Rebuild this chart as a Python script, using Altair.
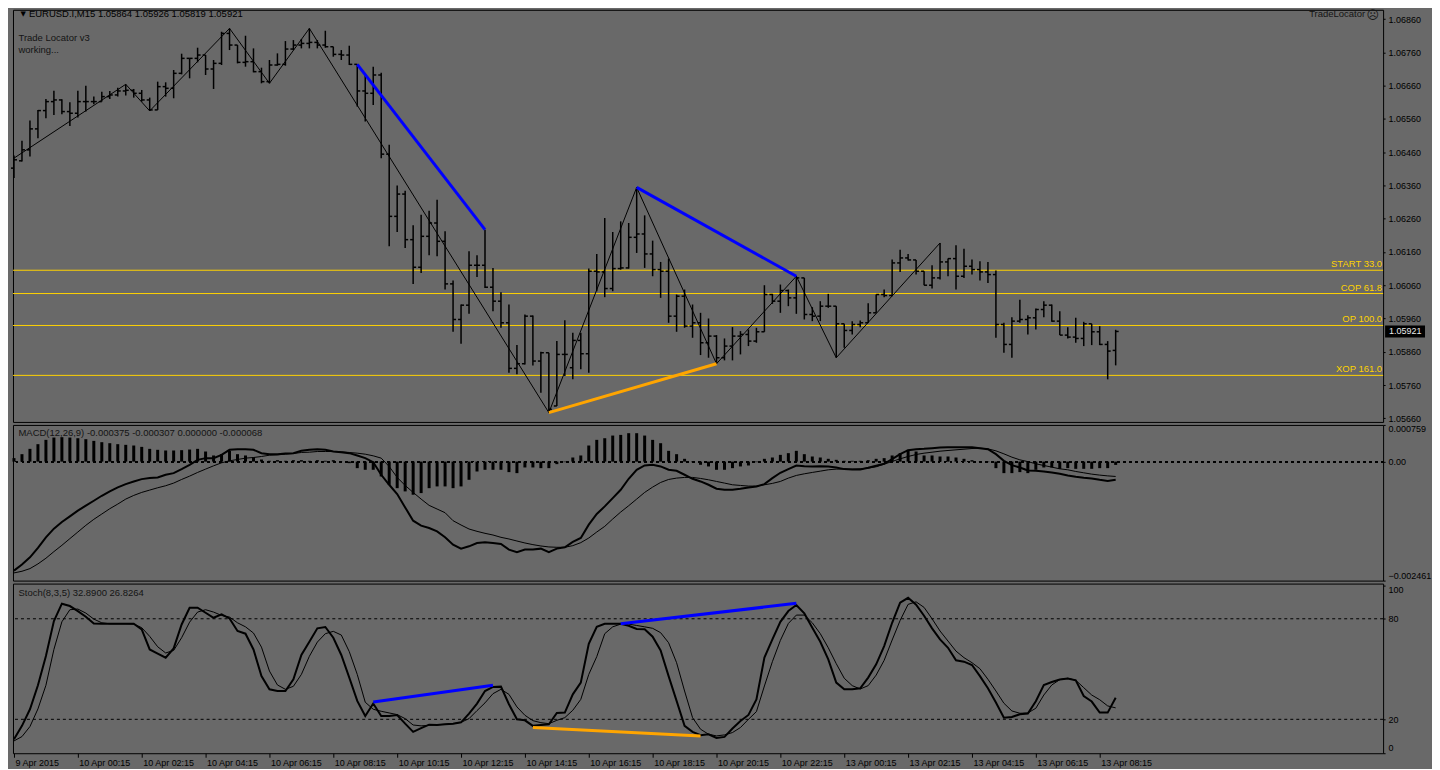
import altair as alt
import pandas as pd

FONT = "Liberation Sans"
BG = "#696969"
YELLOW = "#FFD200"
TXT = "#141414"

# EURUSD.I M15 bars, prices in points (1 point = 0.00001)
OPEN_PTS = [
    106412, 106434, 106467, 106530, 106585, 106612, 106617, 106582, 106577, 106612,
    106612, 106612, 106627, 106632, 106644, 106646, 106637, 106617, 106587, 106657,
    106652, 106697, 106742, 106742, 106752, 106710, 106727, 106817, 106782, 106730,
    106732, 106702, 106672, 106722, 106724, 106770, 106782, 106787, 106790, 106782,
    106777, 106754, 106752, 106724, 106644, 106637, 106692, 106454, 106267, 106334,
    106197, 106114, 106207, 106247, 106192, 106064, 105957, 106000, 106120, 106120,
    106054, 106012, 105947, 105810, 105824, 105967, 105832, 105857, 105697, 105852,
    105812, 105894, 105854, 106102, 106100, 106050, 106110, 106112, 106204, 106214,
    106154, 106107, 106102, 105967, 106027, 105937, 105947, 105887, 105907, 105842,
    105877, 105907, 105912, 105892, 105920, 106032, 106012, 106044, 106022, 106082,
    105972, 105967, 105997, 105997, 105944, 105924, 105942, 105947, 105977, 106032,
    106029, 106127, 106142, 106136, 106102, 106060, 106082, 106130, 106140, 106087,
    106117, 106107, 106100, 106092, 105942, 105882, 105952, 105957, 105962, 105987,
    106000, 105952, 105910, 105904, 105900, 105944, 105920, 105882, 105864,
]
HIGH_PTS = [
    106450, 106494, 106555, 106587, 106620, 106645, 106619, 106610, 106645, 106660,
    106627, 106642, 106644, 106654, 106664, 106650, 106647, 106624, 106672, 106670,
    106707, 106756, 106742, 106774, 106752, 106737, 106822, 106832, 106782, 106810,
    106772, 106714, 106737, 106757, 106794, 106797, 106800, 106832, 106797, 106825,
    106777, 106767, 106780, 106724, 106692, 106717, 106699, 106482, 106360, 106344,
    106240, 106272, 106284, 106317, 106222, 106074, 106002, 106162, 106150, 106227,
    106112, 106039, 106002, 105880, 105972, 105969, 105860, 105857, 105892, 105955,
    105917, 105917, 106110, 106154, 106262, 106220, 106252, 106247, 106354, 106270,
    106194, 106130, 106140, 106032, 106047, 106002, 105977, 105960, 105910, 105900,
    105934, 105922, 105927, 105932, 106060, 106034, 106062, 106047, 106087, 106082,
    105994, 106012, 106034, 105997, 105944, 105952, 105954, 106006, 106032, 106047,
    106137, 106167, 106154, 106136, 106102, 106120, 106187, 106140, 106180, 106170,
    106137, 106132, 106130, 106104, 105947, 105964, 106016, 105970, 105990, 106012,
    106002, 105982, 105934, 105962, 105950, 105944, 105937, 105892, 105926,
]
LOW_PTS = [
    106382, 106432, 106447, 106502, 106562, 106572, 106574, 106539, 106564, 106582,
    106604, 106612, 106620, 106627, 106630, 106624, 106612, 106584, 106587, 106627,
    106622, 106694, 106682, 106730, 106692, 106650, 106722, 106767, 106727, 106717,
    106700, 106667, 106667, 106720, 106720, 106767, 106772, 106772, 106772, 106774,
    106747, 106737, 106722, 106597, 106552, 106602, 106442, 106177, 106220, 106172,
    106064, 106097, 106150, 106147, 106047, 105920, 105884, 105974, 106085, 106052,
    105982, 105932, 105797, 105792, 105822, 105819, 105737, 105677, 105697, 105787,
    105777, 105807, 105797, 106042, 106024, 106042, 106107, 106110, 106157, 106112,
    106087, 106022, 105947, 105920, 105932, 105902, 105850, 105842, 105824, 105834,
    105834, 105852, 105877, 105887, 105920, 106004, 105977, 105997, 105974, 105957,
    105952, 105952, 105992, 105842, 105872, 105912, 105934, 105947, 105977, 106024,
    106027, 106100, 106134, 106092, 106060, 106050, 106077, 106087, 106047, 106082,
    106092, 106074, 106067, 105902, 105857, 105842, 105947, 105912, 105927, 105964,
    105950, 105910, 105900, 105887, 105877, 105880, 105880, 105777, 105819,
]
CLOSE_PTS = [
    106437, 106467, 106530, 106585, 106612, 106617, 106582, 106577, 106612, 106612,
    106612, 106627, 106632, 106644, 106646, 106637, 106617, 106587, 106657, 106652,
    106697, 106742, 106742, 106752, 106710, 106727, 106817, 106782, 106730, 106732,
    106702, 106672, 106722, 106724, 106770, 106782, 106787, 106790, 106782, 106777,
    106754, 106752, 106724, 106644, 106637, 106692, 106454, 106267, 106334, 106197,
    106114, 106207, 106247, 106192, 106064, 105957, 106000, 106120, 106120, 106054,
    106012, 105947, 105810, 105824, 105967, 105832, 105857, 105687, 105852, 105852,
    105894, 105854, 106102, 106100, 106050, 106110, 106112, 106204, 106214, 106154,
    106107, 106102, 105967, 106027, 105937, 105947, 105887, 105907, 105842, 105877,
    105907, 105912, 105892, 105920, 106032, 106012, 106044, 106022, 106082, 105972,
    105967, 105997, 105997, 105944, 105924, 105942, 105947, 105977, 106032, 106029,
    106127, 106142, 106136, 106102, 106060, 106082, 106130, 106140, 106087, 106117,
    106107, 106100, 106092, 105942, 105882, 105952, 105957, 105962, 105987, 106000,
    105952, 105910, 105904, 105900, 105944, 105920, 105882, 105862, 105921,
]

# zigzag pivots: bar index and price in points
ZZ_IDX = [0, 14, 17, 27, 32, 37, 67, 78, 88, 98, 103, 116]
ZZ_PTS = [106442, 106664, 106584, 106832, 106667, 106832, 105677, 106354, 105824, 106087, 105842, 106187]

# divergence segments: start bar, start value, end bar, end value, colour
PRICE_DIV = [
    (43, 106724, 59, 106227, "#0000FF"),
    (78, 106354, 98, 106087, "#0000FF"),
    (67, 105677, 88, 105824, "#FFA500"),
]
STOCH_DIV = [
    (45, 30.3, 60, 40.3, "#0000FF"),
    (76, 77.0, 98, 89.2, "#0000FF"),
    (65, 15.1, 86, 10.1, "#FFA500"),
]

LEVEL_NAMES = ["START 33.0", "COP 61.8", "OP 100.0", "XOP 161.0"]
LEVEL_PRICES = [1.06105, 1.06035, 1.05939, 1.05789]
LAST_PRICE = 1.05921

# MACD(12,26,9) buffers, in millionths
MACD_MAIN = [
    -2254, -2130, -1979, -1786, -1566, -1387, -1249, -1132, -1015, -912,
    -809, -706, -616, -534, -465, -410, -362, -341, -327, -272,
    -238, -155, -66, 37, 72, 72, 140, 244, 257, 257,
    244, 175, 154, 154, 168, 175, 223, 244, 257, 244,
    209, 195, 175, 127, 72, -11, -272, -479, -671, -947,
    -1222, -1325, -1373, -1442, -1566, -1717, -1800, -1752, -1683, -1669,
    -1683, -1703, -1820, -1875, -1820, -1820, -1800, -1875, -1800, -1772,
    -1662, -1580, -1304, -1084, -926, -754, -582, -355, -169, -80,
    -66, -100, -169, -190, -272, -355, -410, -479, -561, -582,
    -582, -561, -534, -513, -465, -341, -231, -155, -80, -94,
    -100, -94, -100, -121, -155, -162, -162, -128, -87, -45,
    51, 154, 237, 257, 264, 278, 292, 299, 299, 299,
    299, 278, 257, 154, 17, -73, -121, -183, -190, -204,
    -224, -252, -286, -314, -334, -348, -376, -400, -375,
]
MACD_SIGNAL = [
    -2302, -2268, -2213, -2116, -1999, -1862, -1731, -1593, -1456, -1318,
    -1194, -1084, -974, -878, -775, -699, -637, -589, -541, -499,
    -444, -369, -300, -224, -155, -87, -25, 17, 44, 72,
    85, 106, 133, 140, 154, 168, 189, 195, 209, 209,
    209, 202, 189, 175, 154, 120, 72, -101, -327, -493,
    -637, -775, -905, -981, -1057, -1222, -1311, -1394, -1442, -1483,
    -1518, -1566, -1600, -1642, -1683, -1717, -1745, -1765, -1772, -1772,
    -1738, -1676, -1580, -1456, -1339, -1187, -1043, -912, -775, -637,
    -527, -431, -369, -341, -327, -327, -348, -376, -410, -444,
    -479, -493, -506, -506, -479, -451, -410, -341, -286, -252,
    -224, -197, -169, -155, -155, -155, -149, -135, -107, -52,
    3, 58, 106, 147, 175, 195, 216, 230, 244, 257,
    271, 278, 264, 223, 161, 92, 37, 0, -45, -80,
    -114, -149, -169, -204, -231, -259, -279, -295, -307,
]
MACD_HIST = [
    72, 154, 264, 361, 450, 498, 505, 498, 484, 464,
    429, 402, 381, 361, 347, 333, 305, 264, 244, 230,
    230, 237, 250, 264, 209, 127, 154, 223, 154, 127,
    92, 44, 17, 30, 17, 30, 30, 17, 30, 17,
    30, 3, -32, -135, -169, -169, -307, -479, -549, -616,
    -685, -651, -549, -513, -513, -549, -513, -376, -204, -169,
    -169, -169, -217, -238, -121, -121, -135, -135, -52, -11,
    85, 127, 333, 450, 484, 539, 553, 588, 588, 539,
    450, 381, 223, 154, 58, -11, -66, -100, -169, -169,
    -135, -100, -80, -11, 58, 85, 140, 175, 223, 154,
    106, 85, 58, 37, 17, 17, 17, 30, 58, 72,
    127, 175, 244, 209, 127, 127, 106, 106, 85, 58,
    30, 3, -11, -135, -238, -238, -217, -238, -169, -121,
    -121, -149, -135, -149, -149, -149, -135, -135, -68,
]

# Stoch(8,3,5)
STOCH_K = [
    8.1, 16.1, 26.0, 40.3, 57.8, 78.6, 89.0, 87.6, 84.6, 81.2,
    77.2, 77.0, 77.0, 77.0, 77.0, 77.0, 73.7, 61.7, 59.2, 56.8,
    62.3, 76.6, 86.6, 86.6, 83.6, 80.6, 82.6, 80.2, 72.7, 71.1,
    61.7, 45.8, 37.9, 36.9, 36.9, 43.9, 58.4, 66.3, 74.3, 75.1,
    68.7, 58.4, 44.9, 31.0, 22.0, 29.4, 22.0, 22.0, 22.6, 17.4,
    12.5, 14.7, 16.8, 16.6, 17.0, 17.4, 18.2, 23.4, 29.4, 36.9,
    39.3, 39.5, 29.0, 20.0, 19.4, 16.1, 16.6, 17.0, 23.8, 24.0,
    34.9, 41.9, 65.1, 75.2, 77.0, 77.0, 77.0, 75.8, 73.9, 73.7,
    69.3, 61.1, 45.8, 31.0, 16.1, 12.5, 10.5, 11.1, 8.9, 9.5,
    14.5, 19.0, 22.6, 31.9, 56.8, 67.7, 78.2, 84.6, 88.2, 83.2,
    74.7, 66.3, 55.8, 41.9, 37.9, 37.9, 38.5, 44.9, 52.8, 63.7,
    77.6, 89.6, 92.5, 88.4, 81.8, 74.3, 67.7, 62.7, 55.2, 54.4,
    52.4, 45.8, 38.5, 30.0, 21.0, 21.4, 23.0, 23.4, 30.8, 40.5,
    42.3, 43.7, 44.3, 43.3, 33.9, 30.6, 24.0, 24.0, 32.89,
]
STOCH_D = [
    7.1, 9.7, 15.7, 26.2, 40.3, 61.7, 78.2, 85.4, 85.8, 83.4,
    79.8, 77.6, 77.0, 77.0, 77.0, 76.8, 74.7, 69.5, 63.3, 59.6,
    61.1, 68.7, 78.0, 84.0, 85.4, 84.0, 82.0, 81.0, 77.6, 75.2,
    71.5, 63.1, 48.8, 40.5, 37.9, 39.7, 46.8, 57.6, 66.1, 71.1,
    72.5, 70.3, 60.4, 46.8, 30.2, 26.0, 24.8, 23.8, 22.8, 20.4,
    16.6, 16.1, 16.4, 16.8, 17.0, 17.4, 18.2, 20.4, 25.2, 29.8,
    35.3, 37.9, 34.9, 27.4, 22.4, 19.2, 18.0, 17.4, 19.4, 21.0,
    25.4, 31.9, 46.8, 57.4, 71.1, 75.2, 76.8, 76.8, 76.0, 75.2,
    74.3, 71.7, 65.7, 53.8, 36.9, 21.0, 14.1, 11.1, 10.1, 10.7,
    12.1, 15.1, 20.0, 24.6, 39.9, 54.4, 67.1, 77.2, 82.2, 82.2,
    77.6, 71.1, 62.7, 53.2, 44.5, 40.1, 38.1, 40.1, 46.4, 55.2,
    67.3, 79.0, 88.6, 90.1, 86.8, 80.0, 72.7, 66.7, 60.7, 56.8,
    53.8, 50.2, 43.9, 36.9, 29.6, 25.0, 23.6, 23.8, 26.6, 34.5,
    40.5, 43.7, 44.5, 43.3, 38.9, 34.5, 31.7, 28.0, 26.83,
]

PRICE_TICKS = [1.05660, 1.05760, 1.05860, 1.05960, 1.06060, 1.06160, 1.06260,
               1.06360, 1.06460, 1.06560, 1.06660, 1.06760, 1.06860]
MACD_TICKS = [0.000759, 0.0, -0.002461]
STOCH_TICKS = [0, 20, 80, 100]
TIME_TICKS = [0, 8, 16, 24, 32, 40, 48, 56, 64, 72, 80, 88, 96, 104, 112, 120, 128, 136]
TIME_LABELS = [
    "9 Apr 2015", "10 Apr 00:15", "10 Apr 02:15", "10 Apr 04:15", "10 Apr 06:15",
    "10 Apr 08:15", "10 Apr 10:15", "10 Apr 12:15", "10 Apr 14:15", "10 Apr 16:15",
    "10 Apr 18:15", "10 Apr 20:15", "10 Apr 22:15", "13 Apr 00:15", "13 Apr 02:15",
    "13 Apr 04:15", "13 Apr 06:15", "13 Apr 08:15",
]

W = 1373
H_MAIN, H_MACD, H_STOCH = 413, 156, 170

idx = list(range(len(OPEN_PTS)))
bars = pd.DataFrame({
    "i": idx,
    "open": [v / 1e5 for v in OPEN_PTS],
    "high": [v / 1e5 for v in HIGH_PTS],
    "low": [v / 1e5 for v in LOW_PTS],
    "close": [v / 1e5 for v in CLOSE_PTS],
})
ind = pd.DataFrame({
    "i": idx,
    "zero": [0.0] * len(idx),
    "macd": [v * 1e-6 for v in MACD_MAIN],
    "signal": [v * 1e-6 for v in MACD_SIGNAL],
    "hist": [v * 1e-6 for v in MACD_HIST],
    "k": STOCH_K,
    "d": STOCH_D,
})
zz = pd.DataFrame({"i": ZZ_IDX, "p": [v / 1e5 for v in ZZ_PTS]})


def seg_frame(segs, div=1.0):
    rows = []
    for n, (i0, v0, i1, v1, col) in enumerate(segs):
        rows.append({"seg": n, "i": i0, "v": v0 / div, "col": col})
        rows.append({"seg": n, "i": i1, "v": v1 / div, "col": col})
    return pd.DataFrame(rows)


price_div = seg_frame(PRICE_DIV, 1e5)
stoch_div = seg_frame(STOCH_DIV)
levels = pd.DataFrame({"name": LEVEL_NAMES, "price": LEVEL_PRICES})

x_scale = alt.Scale(domain=[-0.125, 171.5], nice=False, zero=False)
p_scale = alt.Scale(domain=[1.05649, 1.06888], nice=False, zero=False)
m_scale = alt.Scale(domain=[-0.002461, 0.000759], nice=False, zero=False)
s_scale = alt.Scale(domain=[-0.24, 101.0], nice=False, zero=False)


def right_axis(values, **kw):
    return alt.Axis(
        orient="right", values=values, title=None, grid=False, domain=False,
        tickSize=2, tickColor="black", labelPadding=3, labelFont=FONT,
        labelFontSize=9, labelColor="black", **kw,
    )


time_expr = (
    "[" + ",".join(f"'{s}'" for s in TIME_LABELS) + "]"
    + f"[indexof({TIME_TICKS}, datum.value)]"
)
TIME_AXIS = alt.Axis(
    values=TIME_TICKS, labelExpr=time_expr, orient="bottom", title=None, grid=False,
    domain=False, tickSize=4, tickColor="black", labelAlign="left", labelBaseline="top",
    labelPadding=1, labelOffset=1, labelFont=FONT, labelFontSize=9, labelColor="black",
    labelOverlap=False,
)
P_AXIS = right_axis(PRICE_TICKS, format=".5f")
M_AXIS = right_axis(MACD_TICKS, labelFlush=3,
                    labelExpr="datum.value == 0 ? '0.00' : format(datum.value, '.6f')")
S_AXIS = right_axis(STOCH_TICKS, format="d", labelFlush=3)


def X(axis=None):
    return alt.X("i:Q", scale=x_scale, axis=axis)


def PY(field):
    return alt.Y(f"{field}:Q", scale=p_scale, axis=P_AXIS)


def MY(field):
    return alt.Y(f"{field}:Q", scale=m_scale, axis=M_AXIS)


def SY(field):
    return alt.Y(f"{field}:Q", scale=s_scale, axis=S_AXIS)


def label(text, x, y, size=9.5, align="left", color=TXT, font=FONT):
    return (
        alt.Chart(pd.DataFrame({"t": [text]}))
        .mark_text(align=align, baseline="middle", font=font, fontSize=size, color=color)
        .encode(x=alt.value(x), y=alt.value(y), text="t:N")
    )


# ---- price panel ----
level_rules = alt.Chart(levels).mark_rule(color=YELLOW, strokeWidth=1).encode(y=PY("price"))
level_text = alt.Chart(levels).mark_text(
    align="right", baseline="middle", dy=-6, font=FONT, fontSize=9.5, color=YELLOW
).encode(x=alt.value(W - 1), y=PY("price"), text="name:N")

hl = alt.Chart(bars).mark_rule(color="black", strokeWidth=1.5).encode(
    x=X(), y=PY("low"), y2="high:Q"
)
op = alt.Chart(bars).mark_rule(color="black", strokeWidth=1.5, xOffset=-3).encode(
    x=X(), x2="i:Q", y=PY("open")
)
cl = alt.Chart(bars).mark_rule(color="black", strokeWidth=1.5, x2Offset=3).encode(
    x=X(), x2="i:Q", y=PY("close")
)
zigzag = alt.Chart(zz).mark_line(color="black", strokeWidth=1).encode(x=X(), y=PY("p"))
pdiv = alt.Chart(price_div).mark_line(strokeWidth=3).encode(
    x=X(), y=PY("v"), detail="seg:N", color=alt.Color("col:N", scale=None),
)
last = pd.DataFrame({"p": [LAST_PRICE], "top": [LAST_PRICE + 0.00018],
                     "bot": [LAST_PRICE - 0.00018], "t": [f"{LAST_PRICE:.5f}"]})
last_box = alt.Chart(last).mark_rect(color="black").encode(
    x=alt.value(W + 2), x2=alt.value(W + 42), y=PY("top"), y2="bot:Q",
)
last_txt = alt.Chart(last).mark_text(
    align="left", baseline="middle", font=FONT, fontSize=9, color="#E8E8E8"
).encode(x=alt.value(W + 6), y=PY("p"), text="t:N")

main = alt.layer(
    level_rules, level_text, hl, op, cl, zigzag, pdiv, last_box, last_txt,
    label("\u25bc", 7.5, 4.5, size=7, font="DejaVu Sans", color="black"),
    label("EURUSD.I,M15  1.05864 1.05926 1.05819 1.05921", 16, 4.5, color="black"),
    label("Trade Locator v3", 5.5, 28),
    label(" working...", 5.5, 40.5),
    label("TradeLocator", 1355, 4.5, align="right"),
    label("\u2639", 1362.5, 5.5, size=12, align="center", font="DejaVu Sans"),
).properties(width=W, height=H_MAIN)

# ---- MACD panel ----
macd_zero = alt.Chart(ind).mark_rule(color="black", strokeWidth=1, strokeDash=[2, 4]).encode(
    y=MY("zero")
)
macd_hist = alt.Chart(ind).mark_rule(color="black", strokeWidth=3).encode(
    x=X(), y=MY("zero"), y2="hist:Q"
)
macd_sig = alt.Chart(ind).mark_line(color="black", strokeWidth=1).encode(x=X(), y=MY("signal"))
macd_main = alt.Chart(ind).mark_line(color="black", strokeWidth=2).encode(x=X(), y=MY("macd"))
macd = alt.layer(
    macd_zero, macd_hist, macd_sig, macd_main,
    label("MACD(12,26,9) -0.000375 -0.000307 0.000000 -0.000068", 5.5, 8.5),
).properties(width=W, height=H_MACD)

# ---- Stochastic panel ----
stoch_lv = alt.Chart(pd.DataFrame({"lvl": [20, 80]})).mark_rule(
    color="black", strokeWidth=1, strokeDash=[3, 3]
).encode(y=SY("lvl"))
stoch_d = alt.Chart(ind).mark_line(color="black", strokeWidth=1).encode(
    x=X(TIME_AXIS), y=SY("d")
)
stoch_k = alt.Chart(ind).mark_line(color="black", strokeWidth=2).encode(
    x=X(TIME_AXIS), y=SY("k")
)
sdiv = alt.Chart(stoch_div).mark_line(strokeWidth=3).encode(
    x=X(TIME_AXIS), y=SY("v"), detail="seg:N", color=alt.Color("col:N", scale=None),
)
stoch = alt.layer(
    stoch_lv, stoch_d, stoch_k, sdiv,
    label("Stoch(8,3,5) 32.8900 26.8264", 5.5, 9.5),
).properties(width=W, height=H_STOCH)

chart = (
    alt.vconcat(main, macd, stoch, spacing=3, bounds="flush")
    .properties(padding={"left": 1, "top": 0, "right": 0, "bottom": 0}, background=BG)
    .configure_view(stroke="black", strokeWidth=1)
)

chart.save("out.html", embed_options={"renderer": "svg", "actions": False})
